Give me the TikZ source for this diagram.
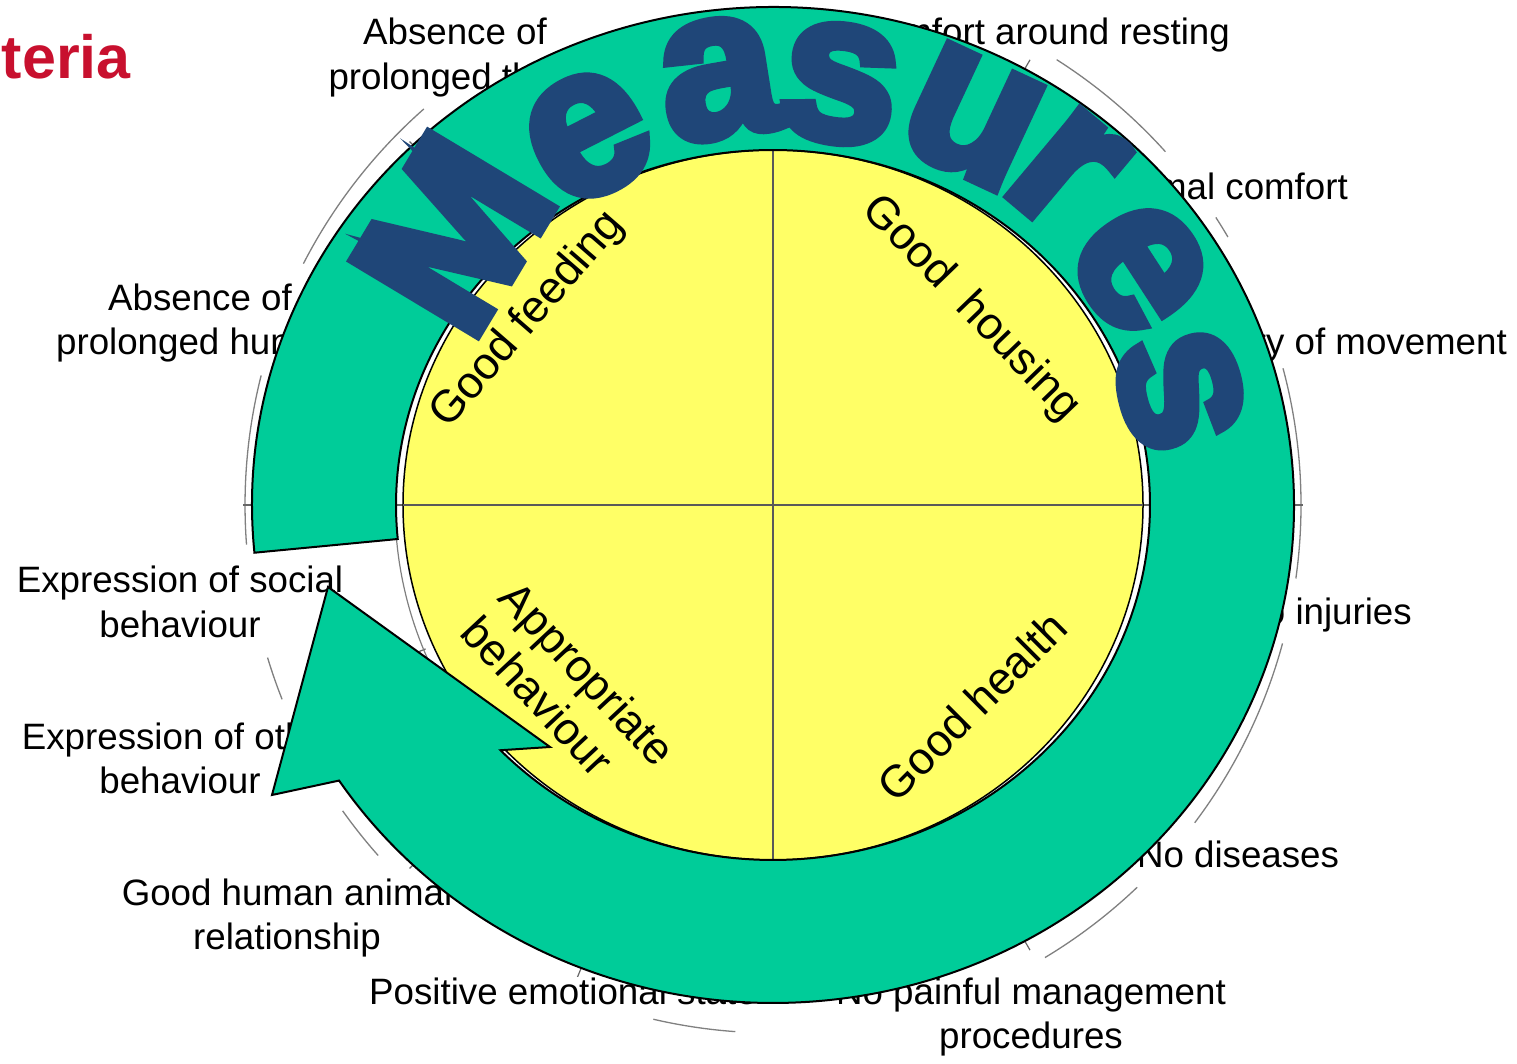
\documentclass[tikz,border=0pt]{standalone}
\usepackage{fontspec}
\setmainfont{Liberation Sans}
\newfontfamily\measfont{Liberation Sans Bold}[FakeBold=5]
\newfontfamily\boldsans{Liberation Sans Bold}
\usetikzlibrary{calc}
\definecolor{ringgreen}{HTML}{00CC99}
\definecolor{yel}{HTML}{FFFF66}
\definecolor{measblue}{HTML}{1F4678}
\definecolor{crim}{HTML}{C8102E}
\begin{document}
\begin{tikzpicture}[x=1pt,y=1pt,
  grayarc/.style={draw=black!50, line width=1.3},
  tickline/.style={draw=black!60, line width=1.2},
  lbl/.style={font=\fontsize{36.7}{44.5}\selectfont, inner sep=1pt, fill=white, align=center},
  quad/.style={font=\fontsize{45}{52}\selectfont, inner sep=0pt},
  ringstyle/.style={fill=ringgreen, draw=black, line width=2},
  letter/.style={font=\measfont\fontsize{210}{215}\selectfont, text=measblue, inner sep=0pt},
  crossline/.style={draw=black!65, line width=1.6}]
\useasboundingbox (0,0) rectangle (1517,1064);
\fill[white] (0,0) rectangle (1517,1064);
\coordinate (C) at (773,559);

% outer gray circle (visible segments)
\foreach \a/\b in {131.4/152.8, 165.8/184.3, 196.8/201.6, 215.4/221.6, 256.9/265.9, 301/313.6, 323/344.8, -8/15, 30.5/33, 42/57.5}
  \draw[grayarc] ($(C)+(\a:528)$) arc[start angle=\a, end angle=\b, radius=528];

% sector boundaries
\foreach \a in {30,60,135,202.5,225,247.5,300,330}
  \draw[tickline] ($(C)+(\a:376)$) -- ($(C)+(\a:514)$);
\foreach \a in {0,180}
  \draw[tickline] ($(C)+(\a:368)$) -- ($(C)+(\a:530)$);
\foreach \a in {90,270}
  \draw[tickline] ($(C)+(\a:350)$) -- ($(C)+(\a:380)$);

% inner circle
\draw[draw=black!50, line width=1.2] (C) circle[radius=378];

% criteria labels
\node[lbl] (thirst) at (455,1006.5) {Absence of\\prolonged thirst};
\node[lbl, anchor=base east] (resting) at (1231,1019) {Comfort around resting};
\node[lbl, anchor=base east] (thermal) at (1349,864) {Thermal comfort};
\node[lbl, anchor=base east] (movement) at (1508,709) {Ability of movement};
\node[lbl] (hunger) at (200,741) {Absence of\\prolonged hunger};
\node[lbl] (social) at (180,462) {Expression of social\\behaviour};
\node[lbl] (other) at (180,305.5) {Expression of other\\behaviour};
\node[lbl] (human) at (287,146) {Good human animal\\relationship};
\node[lbl, anchor=base west] (emotion) at (368,59) {Positive emotional state};
\node[lbl] (pain) at (1031,47) {No painful management\\procedures};
\node[lbl, anchor=base] (disease) at (1238,196) {No diseases};
\fill[white] (1131,421) rectangle (1300,485);
\node[lbl, anchor=base east] (injury) at (1413,439) {No injuries};

% yellow disc
\filldraw[fill=yel, draw=black, line width=1.5] (C) ellipse[x radius=370, y radius=355];
\draw[crossline] (773,914) -- (773,204);
\draw[crossline] (403,559) -- (1143,559);

% principles
\node[quad, rotate=49] (feeding) at (528,744) {Good feeding};
\node[quad, rotate=-46] (housing) at (971,755) {Good\ \ housing};
\node[quad, rotate=45] (health) at (972,358) {Good health};
\node[quad, rotate=-47, align=left] (behav) at (569,373) {Appropriate\\behaviour};

% circular arrow
\filldraw[ringstyle] ($(C)+(185.5:521 and 498)$)
  arc[start angle=185.5, end angle=-146.4, x radius=521, y radius=498]
  -- (272,269) -- (328,477) -- (550,317)
  -- ($(C)+(-136.3:377 and 355)$)
  arc[start angle=-136.3, end angle=185.5, x radius=377, y radius=355]
  -- cycle;

% Measures
\node[letter, rotate=59] (m1) at (453,830) {M};
\node[letter, rotate=27] (m2) at (588,928) {e};
\node[letter, rotate=9] (m3) at (719,985) {a};
\node[letter, rotate=-8] (m4) at (840,980) {s};
\node[letter, rotate=-25] (m5) at (972,946) {u};
\node[letter, rotate=-40] (m6) at (1066,894) {r};
\node[letter, rotate=-57] (m7) at (1140,796) {e};
\node[letter, rotate=-75] (m8) at (1180,674) {s};

% title fragment
\node[font=\boldsans\fontsize{61}{70}\selectfont, text=crim, anchor=base east, inner sep=0pt] (title) at (131,985) {teria};
\end{tikzpicture}
\end{document}
